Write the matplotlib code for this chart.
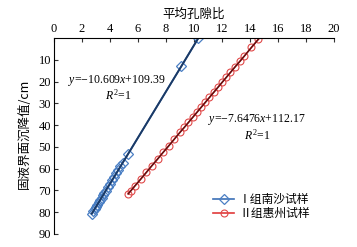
import numpy as np
import matplotlib
matplotlib.use("Agg")
import matplotlib.pyplot as plt

plt.rcParams['font.family'] = ['Liberation Serif', 'Noto Sans CJK SC', 'DejaVu Sans']
plt.rcParams['mathtext.fontset'] = 'custom'
plt.rcParams['mathtext.rm'] = 'Liberation Serif'
plt.rcParams['mathtext.it'] = 'Liberation Serif:italic'

# Data
blue_x = [10.3, 9.1, 5.3, 4.9, 4.75, 4.6, 4.45, 4.3, 4.15, 4.0, 3.85, 3.7, 3.6,
          3.5, 3.4, 3.3, 3.2, 3.1, 3.0, 2.9, 2.8, 2.7]
blue_y = [0.1, 12.9, 53.2, 57.4, 59.0, 60.6, 62.2, 63.8, 65.4, 67.0, 68.5, 70.1,
          71.2, 72.3, 73.3, 74.4, 75.5, 76.5, 77.6, 78.6, 79.7, 80.7]
red_x = [14.6, 14.1, 13.6, 13.3, 12.95, 12.6, 12.3, 12.0, 11.7, 11.4, 11.1, 10.8,
         10.5, 10.2, 9.9, 9.6, 9.3, 9.0, 8.6, 8.2, 7.8, 7.4, 7.0, 6.6, 6.2, 5.8,
         5.5, 5.3]
red_y = [0.5, 4.3, 8.2, 10.5, 13.1, 15.8, 18.1, 20.4, 22.7, 25.0, 27.3, 29.6,
         31.9, 34.2, 36.5, 38.8, 41.1, 43.3, 46.4, 49.5, 52.5, 55.6, 58.6, 61.7,
         64.8, 67.8, 70.1, 71.6]
x_ticks = [0, 2, 4, 6, 8, 10, 12, 14, 16, 18, 20]
y_ticks = [10, 20, 30, 40, 50, 60, 70, 80, 90]
series_names = ['Ⅰ组南沙试样', 'Ⅱ组惠州试样']

cjk = ['Noto Sans CJK SC', 'DejaVu Sans']

fig = plt.figure(figsize=(3.57, 2.47), dpi=100)
ax = fig.add_axes([0.151, 0.053, 0.785, 0.793])

# series
ax.plot(blue_x, blue_y, '-', color='#3b6fb6', lw=1.2, marker='D', ms=5.5,
        mfc='none', mec='#4a7fc4', mew=0.9, label=series_names[0])
ax.plot(red_x, red_y, '-', color='#e03a3a', lw=1.2, marker='o', ms=5,
        mfc='none', mec='#e04848', mew=0.8, label=series_names[1])
# trend lines
ax.plot(blue_x, blue_y, '-', color='#1b3a66', lw=1.4)
ax.plot(red_x, red_y, '-', color='#5a1010', lw=1.0)

ax.set_xlim(0, 20)
ax.set_ylim(90, 0)
ax.set_xticks(x_ticks)
ax.set_yticks(y_ticks)
ax.xaxis.tick_top()
ax.xaxis.set_label_position('top')
ax.tick_params(direction='in', length=3, labelsize=9, pad=2, color='#333333')
for s in ['right', 'bottom']:
    ax.spines[s].set_visible(False)
for s in ['top', 'left']:
    ax.spines[s].set_linewidth(0.8)

ax.set_xlabel('平均孔隙比', family=cjk, fontsize=9, labelpad=4)
ax.set_ylabel('固液界面沉降值/cm', family=cjk, fontsize=9)
ax.yaxis.set_label_coords(-0.083, 0.51)

ax.text(4.5, 19.5, r'$y$=−10.609$x$+109.39', fontsize=8.5, ha='center', va='center')
ax.text(4.6, 26.2, r'$R^2$=1', fontsize=8.5, ha='center', va='center')
ax.text(14.5, 37.5, r'$y$=−7.6476$x$+112.17', fontsize=8.5, ha='center', va='center')
ax.text(14.5, 44.5, r'$R^2$=1', fontsize=8.5, ha='center', va='center')

leg = ax.legend(loc='center', bbox_to_anchor=(0.74, 0.14), frameon=False,
                prop={'family': cjk, 'size': 8.5}, handlelength=1.8,
                handletextpad=0.4, labelspacing=0.1, borderpad=0)

fig.savefig('out.png', dpi=100)
